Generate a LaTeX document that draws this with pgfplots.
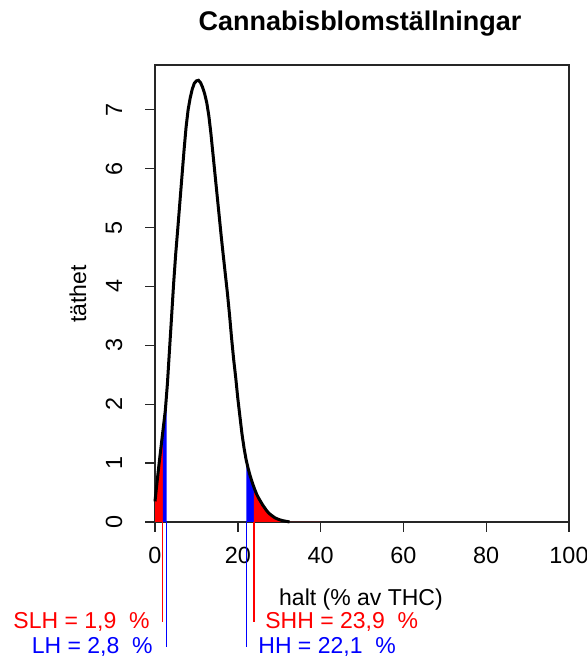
\documentclass[border=0pt]{standalone}
\usepackage{pgfplots}
\pgfplotsset{compat=1.18}
\usepgfplotslibrary{fillbetween}
\usepackage{fontspec}
\setmainfont{Liberation Sans}
\pgfplotstableread{
x y
0.0 0.35
0.5 0.68
1.0 1.00
1.5 1.30
2.0 1.60
2.5 1.90
3.0 2.35
3.5 2.92
4.0 3.48
4.5 4.05
5.0 4.55
5.5 4.98
6.0 5.42
6.5 5.86
7.0 6.30
7.5 6.70
8.0 7.00
8.5 7.20
9.0 7.35
9.5 7.45
10.0 7.49
10.5 7.50
11.0 7.46
11.5 7.38
12.0 7.27
12.5 7.12
13.0 6.90
13.5 6.60
14.0 6.25
14.5 5.90
15.0 5.55
15.5 5.20
16.0 4.85
16.5 4.52
17.0 4.20
17.5 3.88
18.0 3.52
18.5 3.12
19.0 2.76
19.5 2.45
20.0 2.10
20.5 1.80
21.0 1.50
21.5 1.26
22.0 1.06
22.5 0.91
23.0 0.78
23.5 0.67
24.0 0.57
24.5 0.48
25.0 0.41
25.5 0.35
26.0 0.29
26.5 0.24
27.0 0.19
27.5 0.15
28.0 0.12
29.0 0.07
30.0 0.04
31.0 0.02
32.0 0.008
32.5 0.00
}\dens
\begin{document}
\begin{tikzpicture}
\begin{axis}[
  at={(77.5pt,69pt)}, anchor=south west,
  scale only axis, width=207pt, height=228.5pt,
  xmin=0, xmax=100, ymin=0, ymax=7.76,
  xtick={0,20,...,100}, ytick={0,1,...,7},
  tick pos=left, tick align=outside, major tick length=5pt,
  axis line style={black!85, line width=0.7pt},
  tick style={black!85, line width=0.7pt},
  /pgf/number format/assume math mode=true,
  ticklabel style={font=\fontsize{11.7}{14}\selectfont},
  xticklabel style={anchor=center, yshift=-11.5pt},
  yticklabel style={rotate=90, anchor=center, yshift=15.5pt},
  clip=false,
]
\addplot[name path=dens, black, line width=1.5pt] table {\dens};
\addplot[name path=zero, draw=none] coordinates {(0,0) (100,0)};
\addplot[fill=red, draw=none] fill between[of=dens and zero, soft clip={domain=0:1.9}];
\addplot[fill=blue, draw=none] fill between[of=dens and zero, soft clip={domain=1.9:2.8}];
\addplot[fill=blue, draw=none] fill between[of=dens and zero, soft clip={domain=22.1:23.9}];
\addplot[fill=red, draw=none] fill between[of=dens and zero, soft clip={domain=23.9:40}];
\addplot[red, line width=0.6pt] coordinates {(1.9,0) (1.9,-1.70)};
\addplot[blue, line width=0.6pt] coordinates {(2.8,0) (2.8,-2.12)};
\addplot[blue, line width=0.6pt] coordinates {(22.1,0) (22.1,-2.12)};
\addplot[red, line width=0.6pt] coordinates {(23.9,0) (23.9,-1.70)};
\end{axis}
\node[font=\fontsize{13.5}{16}\selectfont\bfseries] at (180pt,318pt) {Cannabisblomställningar};
\node[font=\fontsize{11.5}{14}\selectfont] at (180.5pt,30pt) {halt (\% av THC)};
\node[font=\fontsize{11.5}{14}\selectfont, rotate=90] at (39pt,183pt) {täthet};
\node[font=\fontsize{11.5}{14}\selectfont, text=red, anchor=east, inner sep=0pt] at (75pt,19pt) {SLH = 1,9\ \ \%};
\node[font=\fontsize{11.5}{14}\selectfont, text=blue, anchor=east, inner sep=0pt] at (76.5pt,6.5pt) {LH = 2,8\ \ \%};
\node[font=\fontsize{11.5}{14}\selectfont, text=red, anchor=west, inner sep=0pt] at (132.5pt,19pt) {SHH = 23,9\ \ \%};
\node[font=\fontsize{11.5}{14}\selectfont, text=blue, anchor=west, inner sep=0pt] at (129pt,6.5pt) {HH = 22,1\ \ \%};
\pgfresetboundingbox
\useasboundingbox (0,0) rectangle (293.5pt,330pt);
\end{tikzpicture}
\end{document}
